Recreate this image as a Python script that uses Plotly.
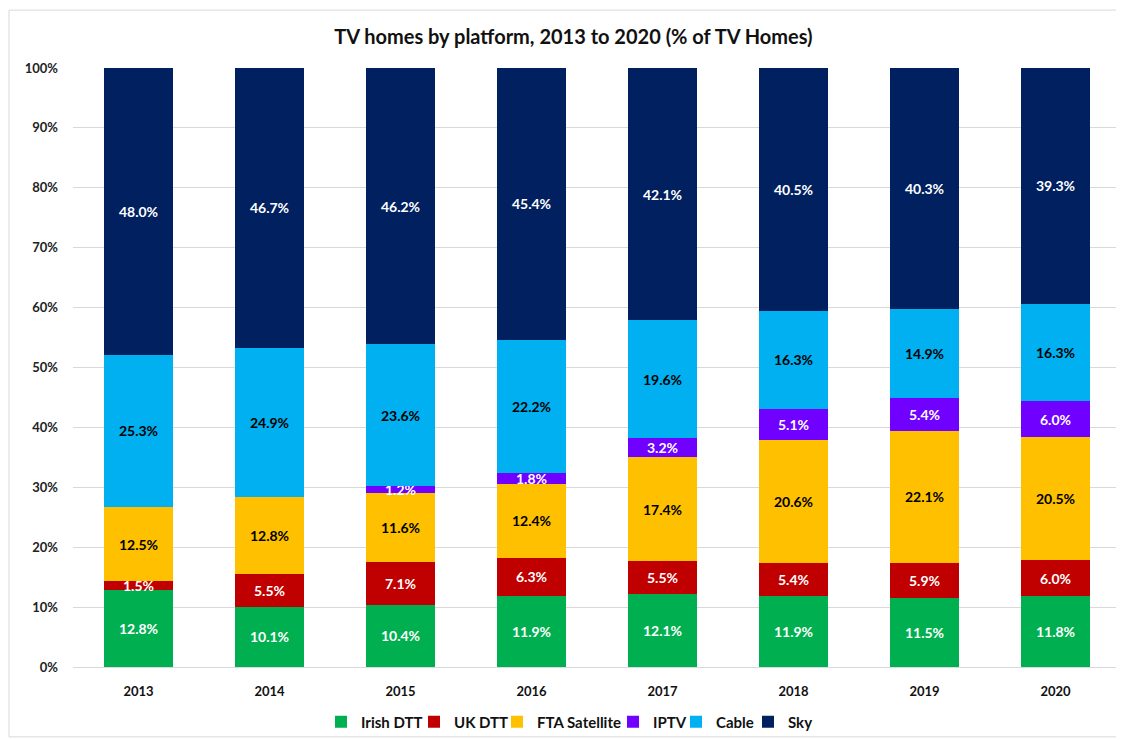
import plotly.graph_objects as go

years = ["2013", "2014", "2015", "2016", "2017", "2018", "2019", "2020"]
irish_dtt = [12.8, 10.1, 10.4, 11.9, 12.1, 11.9, 11.5, 11.8]
uk_dtt = [1.5, 5.5, 7.1, 6.3, 5.5, 5.4, 5.9, 6.0]
fta_sat = [12.5, 12.8, 11.6, 12.4, 17.4, 20.6, 22.1, 20.5]
iptv = [0.0, 0.0, 1.2, 1.8, 3.2, 5.1, 5.4, 6.0]
cable = [25.3, 24.9, 23.6, 22.2, 19.6, 16.3, 14.9, 16.3]
sky = [48.0, 46.7, 46.2, 45.4, 42.1, 40.5, 40.3, 39.3]
y_ticks = [0, 10, 20, 30, 40, 50, 60, 70, 80, 90, 100]
y_tick_labels = [f"{t}%" for t in y_ticks]

series = [
    ("Irish DTT", irish_dtt, "#00B050", "white"),
    ("UK DTT", uk_dtt, "#C00000", "white"),
    ("FTA Satellite", fta_sat, "#FFC000", "black"),
    ("IPTV", iptv, "#7000FF", "white"),
    ("Cable", cable, "#00B0F0", "black"),
    ("Sky", sky, "#002060", "white"),
]

FONT = "Lato, 'Open Sans', sans-serif"

# legend entry text starts (px on page), one legend per series
legend_left_px = [361, 454, 537, 653, 716, 788]
PLOT_L, PLOT_W = 65, 1048

fig = go.Figure()
legend_layout = {}
for i, (name, vals, color, tcol) in enumerate(series):
    texts = [f"{v:.1f}%" if v > 0 else "" for v in vals]
    lname = "legend" if i == 0 else f"legend{i + 1}"
    fig.add_trace(go.Bar(
        name=name, x=years, y=vals, legend=lname, showlegend=True,
        marker=dict(color=color, line=dict(width=0)),
        text=texts, textposition="inside", insidetextanchor="middle",
        textangle=0, constraintext="none",
        textfont=dict(color=tcol, size=14, family=FONT, weight="bold"),
        hoverinfo="name+y",
    ))
    legend_layout[lname] = dict(
        orientation="h", x=(legend_left_px[i] - 48 - PLOT_L) / PLOT_W, xanchor="left",
        y=-0.09, yanchor="middle", bgcolor="rgba(0,0,0,0)",
        font=dict(size=15, color="#111111", family=FONT, weight="bold"),
        itemwidth=30, itemclick=False, visible=True,
    )

fig.update_layout(
    barmode="stack", barnorm="percent", bargap=0.466,
    width=1124, height=740, showlegend=True,
    margin=dict(l=65, r=11, t=60, b=80),
    paper_bgcolor="white", plot_bgcolor="white",
    uniformtext=dict(minsize=14, mode="show"),
    title=dict(text="<b>TV homes by platform, 2013 to 2020 (% of TV Homes)</b>",
               x=0.503, xanchor="center", y=0.961, yanchor="middle",
               font=dict(size=20, color="#111111", family=FONT)),
    font=dict(family=FONT),
    yaxis=dict(range=[0, 100], tickvals=y_ticks, ticktext=y_tick_labels,
               showgrid=True, gridcolor="#d9d9d9", gridwidth=1,
               zeroline=False, showline=False, ticks="", ticklabelstandoff=14,
               tickfont=dict(size=13, color="#222222", family=FONT, weight="bold")),
    xaxis=dict(showgrid=False, showline=True, linecolor="#d9d9d9", ticks="",
               ticklabelstandoff=12,
               tickfont=dict(size=13, color="#111111", family=FONT, weight="bold")),
    shapes=[dict(type="rect", xref="paper", yref="paper",
                 x0=(9 - 73) / 1048, x1=1.02, y0=(668 - 738) / 600, y1=(668 - 10) / 600,
                 line=dict(color="#d9d9d9", width=1), fillcolor="rgba(0,0,0,0)", layer="below")],
    **legend_layout,
)

fig.write_html("out.html")
